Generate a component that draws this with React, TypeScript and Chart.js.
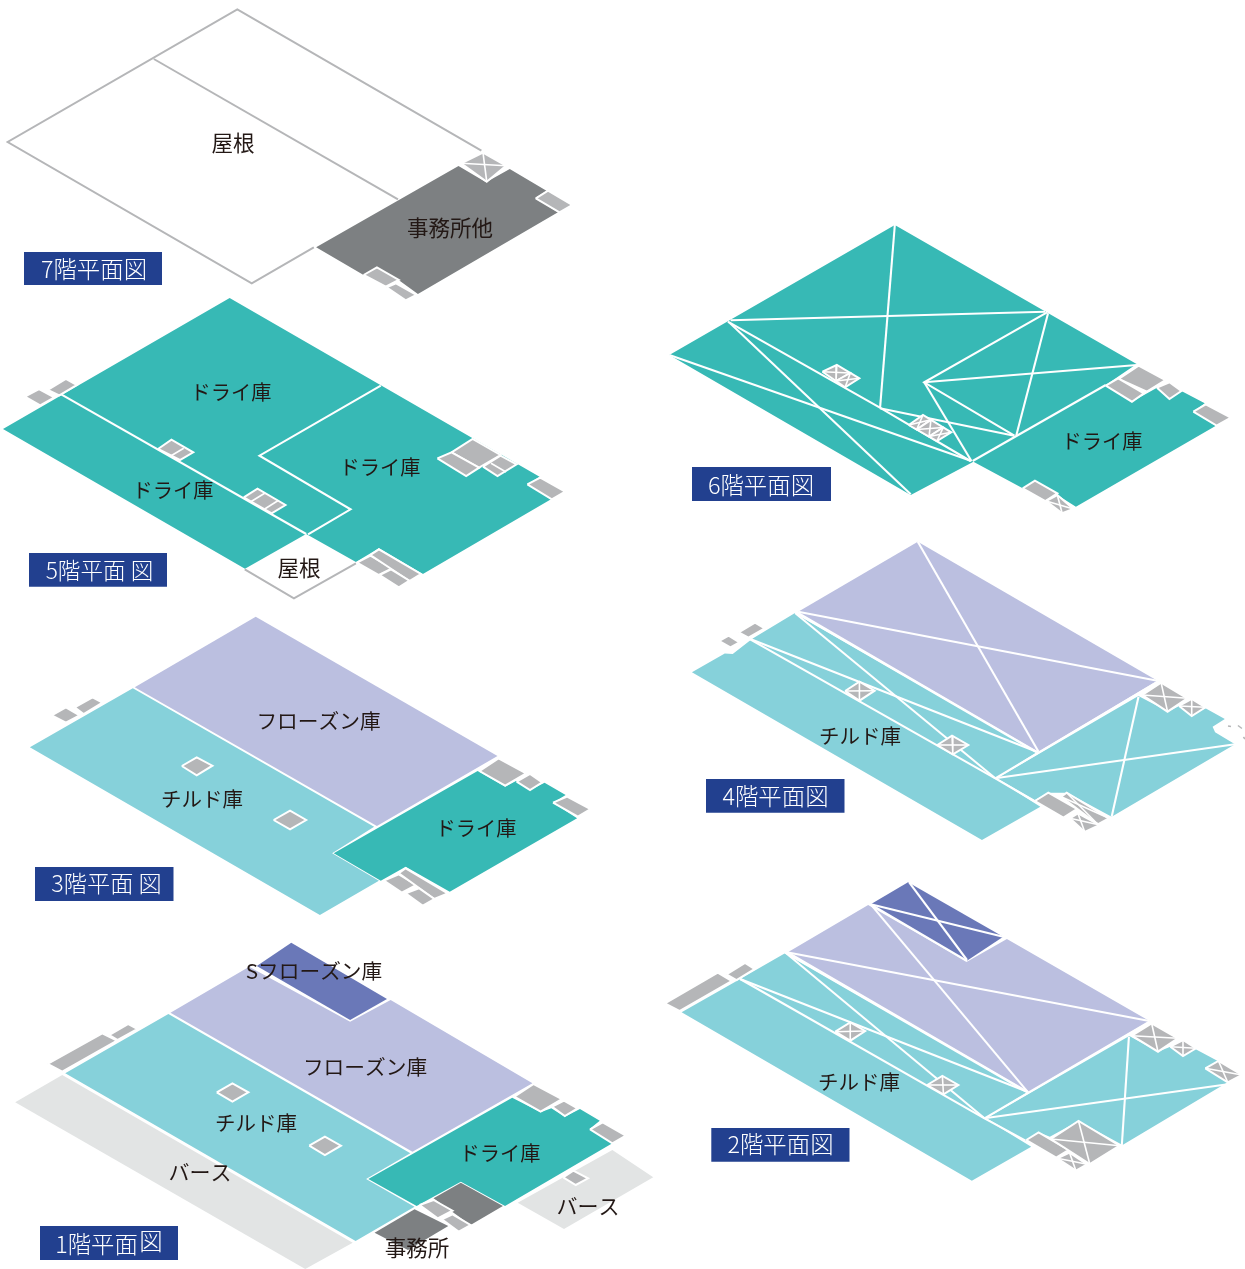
import React, { useEffect, useRef } from "react";
import { Chart, registerables } from "chart.js";

Chart.register(...registerables);

type P = number[];

const TEAL = "#37b9b5", FROZEN = "#bbbfe0", CHILLED = "#86d1da", SFROZEN = "#6a78b8";
const DARK = "#7d8082", GRAY = "#b5b6b8", BERTH = "#e2e4e4", NAVY = "#22408f", INK = "#231815";

// ---- 7F
const roof7Outline: P[] = [[315.4,247.3],[253,283.3],[7.7,142],[238.5,9.3],[483.8,150.7]];
const roof7Inner: P[] = [[154.6,59],[400,199.3]];
const office7: P[] = [[317.7,247.3],[460.8,166],[488.5,182.3],[512.3,169],[549.2,190.7],[537.7,198.3],[560.8,212.3],[420,294],[402,281],[378.8,267.3],[365.4,275]];
const shafts7: P[][] = [
  [[538.5,198.3],[550.8,190.7],[575,205],[562.3,212.3]],
  [[365.4,275],[378.8,267.3],[400.8,280],[387.7,286.7]],
  [[388.5,287.3],[398,283.3],[418.5,295],[407.7,300.3]],
];
const xShafts7: P[][] = [[[485.4,152.7],[508.5,165.7],[489.2,181.7],[463.5,163.3]]];

// ---- 6F
const dry6: P[] = [[896,225],[1139,364],[1108,385],[1134.3,401.7],[1159.5,387.7],[1172,399],[1184,391],[1207.5,403.3],[1196,411.7],[1218.7,425.7],[1078,506.7],[1036.8,480.7],[1024.5,488.3],[975,461.7],[912,495],[669.4,355]];
const lines6: P[][] = [
  [[731,320.3],[1047,311.7]],
  [[896,225],[881.2,407.7]],
  [[728.2,321.7],[881,407.7],[972,461]],
  [[881,408.3],[1016,435.7]],
  [[669.4,355],[973,461]],
  [[729.4,322.3],[912,494.3]],
  [[1049,312.3],[925.5,382.3],[1016.2,435.7]],
  [[925.5,382.3],[973,461]],
  [[925.5,382.3],[1139.3,365]],
  [[1050,313.3],[1018,435.7]],
  [[974.2,461],[1108,385]],
];
const shafts6: P[][] = [
  [[1121,379],[1141,365.7],[1168,380],[1149.3,391.7]],
  [[1108,385.7],[1120.5,378.3],[1146.3,393.3],[1134.3,401.7]],
  [[1159.5,387.7],[1172,382.3],[1184,391],[1172,399]],
  [[1196,411.7],[1208.5,404.3],[1233.7,417.7],[1219.4,425.7]],
  [[1024.5,488.3],[1036.8,480.7],[1059.3,493.3],[1047.3,501]],
];
const xShafts6: P[][] = [
  [[1048,501],[1059.3,495],[1075.5,509],[1064.2,513.3]],
  [[823.3,371.7],[837.7,365],[851.3,373],[836.9,381]],
  [[836.9,381],[851.3,373],[860.3,378.3],[846,387.3]],
  [[910,425],[924.3,415],[932.3,419.8],[918,429.5]],
  [[918,429.5],[932.3,419.8],[944.7,427.5],[930.4,436.5]],
  [[930.4,436.5],[944.7,427.5],[952.7,432.3],[938.3,441]],
];

// ---- 5F
const dry5: P[] = [[230.8,298],[474.2,437.7],[542.3,476.7],[530,484.3],[553.8,499.3],[425,574],[380.8,548.3],[357.7,562],[307.7,534],[246.2,568.7],[3,429]];
const lines5: P[][] = [
  [[61.5,394.3],[307.7,534]],
  [[382.7,385.7],[260.8,455.7],[352.3,509.3],[309.6,534.3]],
];
const roof5: P[] = [[246,569.3],[295.4,598.3],[357.7,563.3]];
const shafts5: P[][] = [
  [[25,396.7],[39.2,389],[54.6,397.3],[40.4,405.3]],
  [[48,390],[66.2,379],[77,385],[59.6,395.3]],
  [[158.8,449],[172.3,439.7],[194.2,452.3],[180.8,460]],
  [[245,497.3],[258.8,488.7],[286.9,505],[273,513.3]],
  [[453.8,452.3],[475,439],[503,455],[481.5,467.7]],
  [[439.6,458.3],[453.8,452.3],[481.5,467.7],[468.5,476]],
  [[485.4,466.7],[503,455.7],[519.2,464.3],[500,476]],
  [[530,484.3],[543,477.7],[568,491.7],[554.6,499.3]],
  [[358.8,562.7],[372.3,555.7],[394,568.3],[380.8,575]],
  [[372.3,555],[380.8,549.3],[423,574],[411.5,581]],
  [[381.5,575],[393,569.3],[411.5,580.7],[400.8,587.3]],
];
const dividers5: P[][] = [
  [[172,455.7],[184.6,448.3]],
  [[252,501.7],[266,493.3]],
  [[266,509],[279.2,500.7]],
  [[493.5,463.3],[508.5,472]],
];

// ---- 4F
const frozen4: P[] = [[919.1,541.7],[1160,680.7],[1040.5,751.7],[798.8,611.7]];
const chilled4: P[] = [[795.2,613.3],[1038.7,752.3],[997,778.3],[1042.3,806.7],[983.6,840],[692,672.3],[725,653.5],[733,654],[748.8,641.7],[753.5,638.3]];
const chilled4b: P[] = [[1140.9,696],[1171,711.7],[1181.8,706],[1194.5,715],[1208.3,708.3],[1227.8,719],[1215.5,726.7],[1218,732.3],[1238,744.3],[1114,816.7],[1069.5,792.7],[1050,792.7],[1036.9,800],[998.8,778.3]];
const lines4: P[][] = [
  [[798.8,611.7],[1160,680.7]],
  [[919.1,541.7],[1040.5,751.7]],
  [[796,612.3],[1038.7,752.3]],
  [[796,613.3],[997,778.3]],
  [[748.8,638.3],[1038.7,751.7]],
  [[748.8,638.3],[997,778.3],[1036.9,801.7]],
  [[997,778.3],[1162,680.7]],
  [[997,778.3],[1238,744.3]],
  [[1141,696.7],[1114,816.7]],
];
const shafts4: P[][] = [
  [[719.1,641],[728.9,635.7],[739.8,642.3],[730.7,647.3]],
  [[739,632.3],[755.4,622.7],[765.1,628.3],[748.8,637.7]],
  [[1036.9,801],[1050.3,792.7],[1079,809],[1065.5,817.7]],
];
const specks4: P[][] = [
  [[1231,726],[1234,726.5]],
  [[1241,725.5],[1245,728.5]],
  [[1246.5,737],[1248,739]],
];
const xShafts4: P[][] = [
  [[846,691],[860.4,681.7],[875.7,690.7],[860.4,700.7]],
  [[938.7,745],[953.5,735.7],[969.9,745],[954.3,754.3]],
  [[1144.9,695],[1163.7,682.7],[1190.1,698.3],[1170.2,711.7]],
  [[1181.8,706],[1194.5,699],[1208.3,707.3],[1194.5,716]],
  [[1063.3,796.7],[1068.8,792.7],[1111.2,818.3],[1100,824.3]],
  [[1072,818.3],[1080,813.3],[1102,825],[1087,832]],
];

// ---- 3F
const frozen3: P[] = [[257,616.7],[500,756],[378.8,826],[135.4,687.3]];
const chilled3: P[] = [[133.5,688.3],[376,826.7],[333.8,853.3],[380.8,880.7],[321.5,915],[30,747.3]];
const dry3: P[] = [[480,771],[507.7,786.7],[518.5,781],[532.7,790],[547.3,782.7],[568.5,795],[555.8,802.7],[580,818.3],[452,891.7],[407.7,866.7],[382.7,880.7],[335.4,853.3]];
const shafts3: P[][] = [
  [[482,771],[501,758.3],[528.8,773.3],[507.7,785.7]],
  [[519.2,781.7],[532.7,774],[545,782.3],[532.7,790]],
  [[555.8,802.7],[570,796.7],[593.5,809],[580.8,816.7]],
  [[182.7,766],[197.7,757.3],[213.5,765.7],[197.7,775.3]],
  [[275,820],[291.5,810.7],[307.7,820],[291.5,829.3]],
  [[52,715.3],[66.2,707.3],[80,715.3],[66.2,722.7]],
  [[75,707.3],[93,697.3],[103,702.7],[84,714]],
  [[385.8,880.7],[400.8,874.3],[418.5,885],[403.8,892.7]],
  [[400.8,873.3],[407.7,868.3],[450,893.3],[436.5,899]],
  [[407.7,893.3],[421,888.3],[436.5,899],[425,905.7]],
];

// ---- 2F
const sfrozen2: P[] = [[909,882.3],[1004.6,936.7],[968.2,960.7],[871.6,904.3]];
const frozen2: P[] = [[869,905],[968.2,961.7],[1008.3,939],[1151.4,1021],[1030.8,1091.7],[789.2,951.7]];
const chilled2: P[] = [[785.5,953.3],[1028.9,1092.3],[985.8,1118.3],[1032.7,1146.7],[973.1,1180.7],[681.7,1012.3],[740.5,979]];
const chilled2b: P[] = [[1131.2,1036],[1160,1051.7],[1172.4,1046.7],[1184.3,1055.7],[1197.4,1049],[1220,1061],[1207.5,1068.3],[1230,1082.3],[1124.4,1145],[1080.2,1121],[1051.4,1136.7],[1040.1,1132.3],[1027,1140.7],[987.7,1118.3]];
const lines2: P[][] = [
  [[871.6,904.3],[1004.6,936.7]],
  [[910.2,882.3],[968.2,960]],
  [[871.6,904.3],[968.2,961]],
  [[871.6,904.3],[1028.9,1091.7]],
  [[787.3,952.3],[1151.4,1021]],
  [[785.5,952.3],[1028.9,1092.3]],
  [[785.5,952.3],[985.8,1118.3]],
  [[740.5,979],[1028.9,1091.7]],
  [[740.5,979],[985.8,1118.3],[1027,1140.7]],
  [[985.8,1118.3],[1151.4,1021.7]],
  [[985.8,1118.3],[1230,1084.3]],
  [[1130.8,1036.7],[1123.7,1145]],
];
const shafts2: P[][] = [
  [[664.9,1003.3],[718,972.7],[731.9,981],[679.5,1011]],
  [[726.7,974.3],[745.4,963],[754.8,969],[736.8,980]],
  [[1027.8,1140],[1040.1,1132.3],[1070.1,1150],[1057.8,1157.7]],
];
const xShafts2: P[][] = [
  [[836,1031.7],[851,1022.3],[866,1031],[851,1040.7]],
  [[928.2,1085],[943.5,1076],[959.6,1085],[944.6,1094.3]],
  [[1133.8,1035.7],[1153.6,1023.3],[1179.9,1038.3],[1160,1051.7]],
  [[1172.4,1046.7],[1185.1,1040],[1198.2,1048.3],[1185.1,1056]],
  [[1207.5,1068.3],[1220.7,1061],[1244.3,1075],[1230,1082.3]],
  [[1052.5,1139],[1080.2,1121],[1121.4,1145.7],[1091.5,1164]],
  [[1058.9,1158.3],[1071.2,1152.7],[1088.8,1164.3],[1077.6,1170.7]],
];

// ---- 1F
const berth1a: P[] = [[62.4,1075],[353.6,1242.7],[306,1269],[15.2,1102.3]];
const berth1b: P[] = [[613.9,1150],[654.9,1177.3],[565.4,1229],[519,1202.7]];
const sfrozen1: P[] = [[292,942.7],[388,999],[351,1020],[257.4,966]];
const frozen1: P[] = [[249.8,966.7],[351,1021.7],[391.6,1000],[533.8,1083.3],[413.5,1151.7],[170.9,1012.7]];
const chilled1: P[] = [[168.8,1014],[411.4,1153.3],[367,1179],[415.6,1206.7],[356.5,1241],[65.4,1073.3]];
const dry1: P[] = [[513.5,1097.7],[542,1112.3],[552.7,1108.3],[566.2,1116.7],[581.4,1109],[601.3,1120.7],[590.7,1129.3],[613.9,1143.3],[506.3,1206],[462,1181.7],[417.7,1206],[369.2,1179]];
const office1a: P[] = [[434.6,1198.3],[462,1182.7],[504.2,1206],[471.7,1225]];
const office1b: P[] = [[375.5,1232.7],[415.6,1209.3],[449.4,1226],[409,1250]];
const shafts1: P[][] = [
  [[47.7,1064],[102.5,1033.3],[117.3,1040.7],[62.4,1071.7]],
  [[109.7,1035],[128.7,1024],[138,1029],[118,1040]],
  [[217.3,1092.3],[233,1083.3],[249,1092.3],[233,1101.7]],
  [[310,1145.7],[325.7,1136.7],[341.8,1145.7],[325.7,1155]],
  [[515.6,1096.7],[535,1084],[563.3,1099],[542,1111.7]],
  [[553.6,1106.7],[565.4,1100.7],[579,1108.3],[566.2,1116]],
  [[591.6,1129.3],[604.2,1122.3],[627.4,1135.7],[613.9,1143.3]],
  [[564.6,1177.3],[574.7,1170.7],[589.5,1178.3],[577.2,1185]],
  [[420.7,1205],[434.6,1200],[453.6,1210.7],[438.8,1218.3]],
  [[443,1219.3],[453.6,1214.3],[471.7,1225],[460,1231.7]],
];

// ---- floor title plates: left, top, right, bottom
const plates: [number, number, number, number][] = [
  [24, 252, 162, 285],
  [692, 467, 831, 501],
  [29, 553, 167, 586.7],
  [706, 779, 844.5, 812.7],
  [35, 867, 173.5, 901],
  [711.3, 1128, 849.5, 1161.7],
  [40, 1226, 178, 1260],
];
// ---- plate titles: text, x, y, size
const plateTitles: [string, number, number, number][] = [
  ["7階平面図", 94, 269, 23.4],
  ["6階平面図", 761, 485, 23.4],
  ["5階平面 図", 99.5, 570, 22.6],
  ["4階平面図", 775.5, 796, 23.4],
  ["3階平面 図", 106.5, 883, 23.2],
  ["2階平面図", 780.5, 1144, 23.4],
  ["1階平面", 96.5, 1244, 23.4],
  ["図", 151, 1241, 23.4],
];

// ---- room names: text, x, y, size
const roomLabels: [string, number, number, number][] = [
  ["屋根", 233, 142.5, 21.5], ["事務所他", 450, 227.5, 21.5],
  ["ドライ庫", 1102, 441, 20.2],
  ["ドライ庫", 231, 392.5, 20.2], ["ドライ庫", 173, 490.5, 20.2], ["ドライ庫", 380, 467.5, 20.2], ["屋根", 299, 567.5, 21.5],
  ["チルド庫", 860, 736.5, 20.5],
  ["フローズン庫", 318.5, 721.5, 20.7], ["チルド庫", 202, 799.5, 20.5], ["ドライ庫", 476, 828.5, 20.2],
  ["チルド庫", 859, 1082.5, 20.5],
  ["Sフローズン庫", 314, 971.5, 20.7], ["フローズン庫", 365, 1067.5, 20.7], ["チルド庫", 256, 1123.5, 20.5],
  ["ドライ庫", 500, 1153.5, 20.2], ["バース", 200, 1172.5, 21], ["バース", 588, 1206.5, 21], ["事務所", 417, 1247.5, 21.5],
];

function buildDatasets() {
  const ds: any[] = [];
  // horizontal reading calibration of the current floor: origin and factor
  let x0 = 0, k = 1;
  const floor = (o: number, f: number) => { x0 = o; k = f; };
  const add = (pts: P[], fillC: string | null, stroke: string | null, w: number, closed: boolean) => {
    const use = closed ? [...pts, pts[0]] : pts;
    ds.push({
      data: use.map(([x, y]) => ({ x: x0 + (x - x0) * k, y })),
      showLine: stroke !== null,
      borderColor: stroke ?? "transparent",
      borderWidth: stroke ? w : 0,
      polygonFill: fillC,
      backgroundColor: fillC ?? "transparent",
      pointRadius: 0,
      tension: 0,
      fill: false,
      borderJoinStyle: "miter",
      borderCapStyle: "butt",
    });
  };
  const area = (p: P[], c: string) => add(p, c, null, 0, true);
  const white = (ls: P[][], w = 2.1) => ls.forEach((l) => add(l, null, "#ffffff", w, false));
  const shafts = (ss: P[][]) => ss.forEach((s) => add(s, GRAY, "#ffffff", 2, true));
  const xShafts = (ss: P[][]) => ss.forEach((s) => {
    add(s, GRAY, "#ffffff", 2, true);
    add([s[0], s[2]], null, "#ffffff", 1.6, false);
    add([s[1], s[3]], null, "#ffffff", 1.6, false);
  });

  floor(0, 0.995);
  area(office7, DARK);
  add(roof7Outline, null, GRAY, 2, false);
  add(roof7Inner, null, GRAY, 2, false);
  shafts(shafts7); xShafts(xShafts7);

  floor(660, 0.995);
  area(dry6, TEAL); white(lines6); shafts(shafts6); xShafts(xShafts6);

  floor(0, 0.995);
  area(dry5, TEAL); white(lines5); add(roof5, null, GRAY, 2, false); shafts(shafts5); white(dividers5, 1.6);

  floor(680, 0.9946);
  area(frozen4, FROZEN); area(chilled4, CHILLED); area(chilled4b, CHILLED); white(lines4); shafts(shafts4); xShafts(xShafts4);
  specks4.forEach((l) => add(l, null, GRAY, 1.5, false));

  floor(0, 0.995);
  area(frozen3, FROZEN); area(chilled3, CHILLED); area(dry3, TEAL); shafts(shafts3);

  floor(660, 0.996);
  area(frozen2, FROZEN); area(sfrozen2, SFROZEN); area(chilled2, CHILLED); area(chilled2b, CHILLED); white(lines2); shafts(shafts2); xShafts(xShafts2);

  floor(0, 0.9975);
  area(berth1a, BERTH); area(berth1b, BERTH); area(frozen1, FROZEN); area(sfrozen1, SFROZEN); area(chilled1, CHILLED);
  area(dry1, TEAL); area(office1a, DARK); area(office1b, DARK); shafts(shafts1);

  floor(0, 1);
  plates.forEach(([l, t, r, b]) => area([[l, t], [r, t], [r, b], [l, b]], NAVY));

  ds.forEach((d, i) => { d.order = ds.length - i; });
  return ds;
}

const polygonPlugin = {
  id: "polygonFill",
  beforeDatasetDraw(chart: any, args: any) {
    const ds = chart.data.datasets[args.index];
    if (!ds.polygonFill) return;
    const pts = args.meta.data;
    const ctx = chart.ctx;
    ctx.save();
    ctx.beginPath();
    pts.forEach((p: any, i: number) => (i ? ctx.lineTo(p.x, p.y) : ctx.moveTo(p.x, p.y)));
    ctx.closePath();
    ctx.fillStyle = ds.polygonFill;
    ctx.fill();
    ctx.restore();
  },
};

const labelPlugin = {
  id: "floorLabels",
  afterDatasetsDraw(chart: any) {
    const { ctx, scales } = chart;
    ctx.save();
    ctx.textAlign = "center";
    ctx.textBaseline = "middle";
    const put = (t: string, x: number, y: number, s: number, w: number, c: string) => {
      ctx.fillStyle = c;
      ctx.font = `${w} ${s}px "Noto Sans CJK JP"`;
      ctx.fillText(t, scales.x.getPixelForValue(x), scales.y.getPixelForValue(y));
    };
    roomLabels.forEach(([t, x, y, s]) => put(t, x, y, s, 400, INK));
    plateTitles.forEach(([t, x, y, s]) => put(t, x, y, s, 300, "#ffffff"));
    ctx.restore();
  },
};

export default function App() {
  const ref = useRef<HTMLCanvasElement>(null);
  useEffect(() => {
    const chart = new Chart(ref.current as HTMLCanvasElement, {
      type: "scatter",
      data: { datasets: buildDatasets() },
      plugins: [polygonPlugin, labelPlugin],
      options: {
        animation: false,
        responsive: false,
        events: [],
        layout: { padding: 0 },
        plugins: { legend: { display: false }, tooltip: { enabled: false } },
        scales: {
          x: { type: "linear", min: 0, max: 1245, display: false },
          y: { type: "linear", min: 0, max: 1269, reverse: true, display: false },
        },
      },
    } as any);
    return () => chart.destroy();
  }, []);
  return (
    <div style={{ position: "absolute", left: 0, top: 0, width: 1245, height: 1269, background: "#fff" }}>
      <canvas ref={ref} width={1245} height={1269} style={{ display: "block" }} />
    </div>
  );
}
